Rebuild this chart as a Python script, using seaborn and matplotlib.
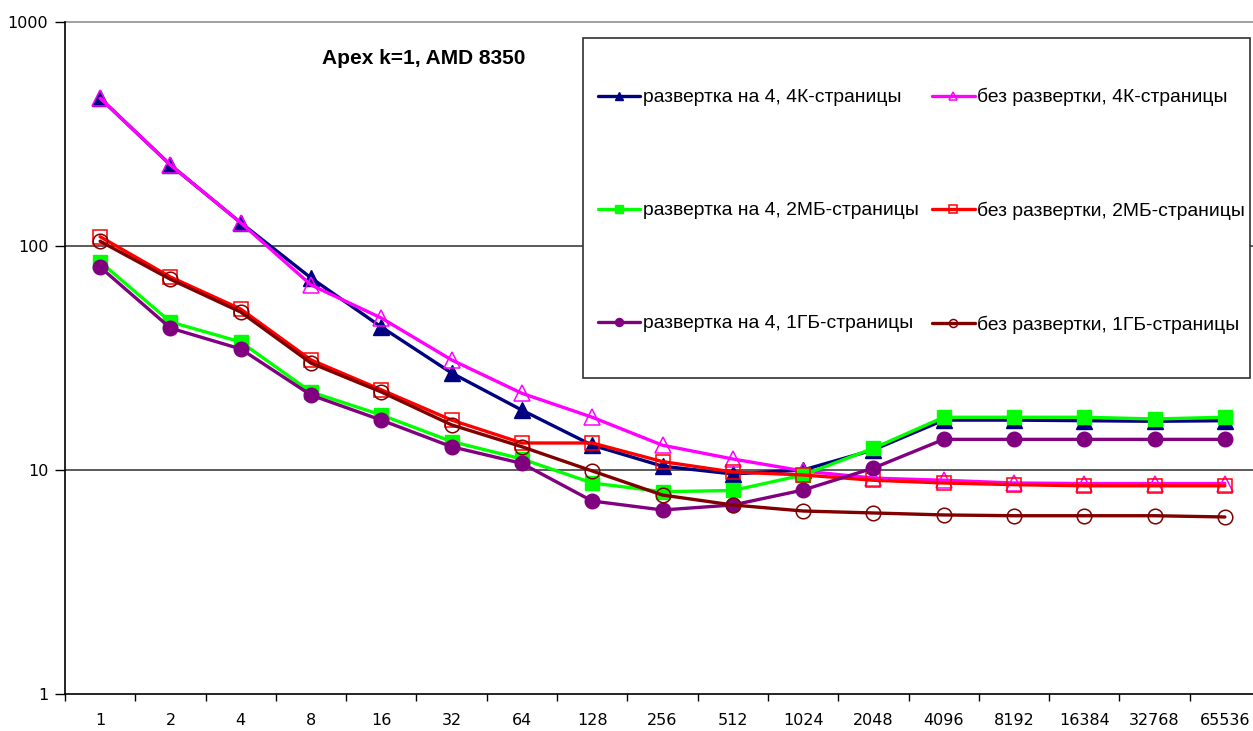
import numpy as np
import pandas as pd
import matplotlib
matplotlib.use("Agg")
import matplotlib.pyplot as plt
import seaborn as sns
from matplotlib.ticker import FixedLocator, NullFormatter, NullLocator
from matplotlib.patches import Rectangle

sns.set_theme(style="white")
plt.rcParams['font.family'] = ['Liberation Sans', 'DejaVu Sans']

categories = ["1", "2", "4", "8", "16", "32", "64", "128", "256", "512", "1024",
              "2048", "4096", "8192", "16384", "32768", "65536"]

unroll_4k   = [457, 230, 127, 72, 43.5, 27.1, 18.5, 12.9, 10.4, 9.6, 10.0, 12.3, 16.7, 16.7, 16.6, 16.5, 16.6]
nounroll_4k = [457, 230, 127, 67, 47.7, 31.0, 22.0, 17.2, 12.9, 11.2, 9.9, 9.2, 9.0, 8.75, 8.7, 8.7, 8.7]
unroll_2m   = [85, 45.8, 37.3, 22.3, 17.6, 13.4, 11.2, 8.75, 8.0, 8.1, 9.5, 12.5, 17.2, 17.2, 17.2, 16.9, 17.2]
nounroll_2m = [110, 72.7, 52.3, 31.0, 22.8, 16.7, 13.2, 13.2, 10.9, 9.8, 9.5, 9.0, 8.75, 8.6, 8.5, 8.5, 8.5]
unroll_1g   = [80.5, 43, 34.7, 21.6, 16.7, 12.7, 10.7, 7.27, 6.63, 6.98, 8.14, 10.2, 13.7, 13.7, 13.7, 13.7, 13.7]
nounroll_1g = [105, 71, 50.7, 30, 22.3, 15.9, 12.7, 9.9, 7.73, 6.98, 6.56, 6.43, 6.3, 6.25, 6.25, 6.25, 6.17]

labels = ["развертка на 4, 4К-страницы", "без развертки, 4К-страницы",
          "развертка на 4, 2МБ-страницы", "без развертки, 2МБ-страницы",
          "развертка на 4, 1ГБ-страницы", "без развертки, 1ГБ-страницы"]
series = [unroll_4k, nounroll_4k, unroll_2m, nounroll_2m, unroll_1g, nounroll_1g]
colors = ["#000080", "#FF00FF", "#00FF00", "#FF0000", "#800080", "#800000"]
markers = ["^", "^", "s", "s", "o", "o"]
filled = [True, False, True, False, True, False]
msizes = [11.5, 11.5, 10, 10, 10.5, 10.5]

W, H = 1253, 731
fig = plt.figure(figsize=(W / 100, H / 100), dpi=100)
ax = fig.add_axes([65 / W, 37 / H, (W - 65) / W, (694 - 22) / H])

x = np.arange(len(categories))
handles = []
for vals, lab, c, m, f, ms in zip(series, labels, colors, markers, filled, msizes):
    df = pd.DataFrame({"x": x, "y": vals})
    sns.lineplot(data=df, x="x", y="y", ax=ax, color=c, linewidth=2.4,
                 marker=m, markersize=ms,
                 markerfacecolor=(c if f else "none"), markeredgecolor=c,
                 markeredgewidth=(1 if f else 1.1), label=lab, legend=False)
    handles.append(ax.lines[-1])

ax.set_yscale("log")
ax.set_ylim(1, 1000)
ax.set_xlim(-0.5, 16.4)
ax.set_xlabel("")
ax.set_ylabel("")

# y ticks
ax.yaxis.set_major_locator(FixedLocator([1, 10, 100, 1000]))
ax.yaxis.set_minor_locator(NullLocator())
ax.set_yticklabels(["1", "10", "100", "1000"])
ax.tick_params(axis="y", which="major", direction="out", length=7, width=1,
               color="black", labelsize=11.5, pad=5, left=True)

# x ticks: marks between categories, labels at categories
ax.xaxis.set_major_locator(FixedLocator(np.arange(-0.5, 16.6, 1.0)))
ax.xaxis.set_major_formatter(NullFormatter())
ax.xaxis.set_minor_locator(FixedLocator(x))
ax.set_xticklabels(categories, minor=True)
ax.tick_params(axis="x", which="major", direction="out", length=5, width=1,
               color="black", bottom=True)
ax.tick_params(axis="x", which="minor", length=0, labelsize=11.5, pad=14)
for t in ax.get_xticklabels(minor=True) + ax.get_yticklabels():
    t.set_family(["DejaVu Sans"])
    t.set_color("black")

# grid lines
for yv in [10, 100]:
    ax.axhline(yv, color="#404040", linewidth=1.2, zorder=0.5)
ax.axhline(1000, color="#909090", linewidth=1.2, zorder=0.5, clip_on=False)

for s in ["top", "right"]:
    ax.spines[s].set_visible(False)
for s in ["left", "bottom"]:
    ax.spines[s].set_color("black")
    ax.spines[s].set_linewidth(1.2)

fig.text(424 / W, 1 - 58 / H, "Apex k=1, AMD 8350",
         ha="center", va="center", fontsize=15, fontweight="bold", color="black")

# legend box
fig.patches.append(Rectangle((583 / W, 1 - 378 / H), (1250 - 583) / W, (378 - 38) / H,
                             transform=fig.transFigure, facecolor="white",
                             edgecolor="#303030", linewidth=1.2, zorder=3))

order = [0, 2, 4, 1, 3, 5]
leg = fig.legend([handles[i] for i in order], [labels[i] for i in order],
                 ncol=2, loc="upper left",
                 bbox_to_anchor=(598 / W, 1 - 88 / H), bbox_transform=fig.transFigure,
                 frameon=False,
                 fontsize=13.9, markerscale=0.55, handlelength=2.2,
                 handletextpad=0.12, columnspacing=0.7,
                 labelspacing=4.95, borderpad=0, borderaxespad=0)
leg.set_zorder(4)
for t in leg.get_texts():
    t.set_color("black")

fig.savefig("out.png", dpi=100, facecolor="white")
